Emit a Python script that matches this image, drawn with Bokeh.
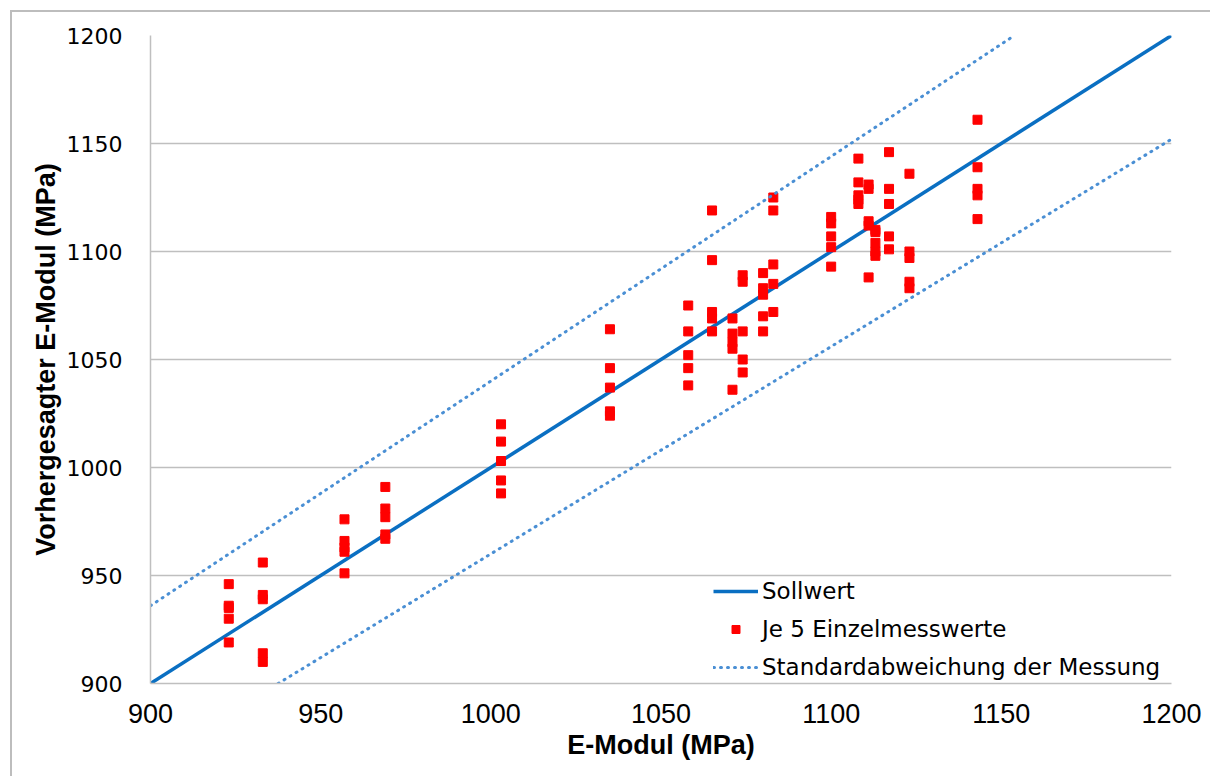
from bokeh.plotting import figure
from bokeh.models import Range1d, FixedTicker, Legend, LegendItem
from bokeh.embed import file_html
from bokeh.resources import INLINE

# ---- data ----
soll_x = [900, 1200]
soll_y = [900, 1200]
std_upper_x = [900, 1153.85]
std_upper_y = [936, 1200]
std_lower_x = [937.5, 1200]
std_lower_y = [900, 1152]

meas_x = ([923] * 5 + [933] * 5 + [957] * 5 + [969] * 5 + [1003] * 5 + [1035] * 5
          + [1058] * 5 + [1065] * 5 + [1071] * 5 + [1074] * 5 + [1080] * 5 + [1083] * 5
          + [1100] * 5 + [1108] * 5 + [1111] * 5 + [1113] * 5 + [1117] * 5 + [1123] * 5
          + [1143] * 5)
meas_y = [946, 936, 935, 930, 919,
          956, 941, 939, 914, 910,
          976, 966, 963, 961, 951,
          991, 981, 977, 969, 967,
          1020, 1012, 1003, 994, 988,
          1064, 1046, 1037, 1026, 1024,
          1075, 1063, 1052, 1046, 1038,
          1119, 1096, 1072, 1069, 1063,
          1069, 1062, 1058, 1055, 1036,
          1089, 1086, 1063, 1050, 1044,
          1090, 1083, 1080, 1070, 1063,
          1125, 1119, 1094, 1085, 1072,
          1116, 1113, 1107, 1102, 1093,
          1143, 1132, 1126, 1124, 1122,
          1131, 1129, 1114, 1112, 1088,
          1110, 1109, 1104, 1100, 1098,
          1146, 1129, 1122, 1107, 1101,
          1136, 1100, 1097, 1086, 1083,
          1161, 1139, 1129, 1126, 1115]

x_ticks = [900, 950, 1000, 1050, 1100, 1150, 1200]
y_ticks = [900, 950, 1000, 1050, 1100, 1150, 1200]

W, H = 1200, 766
p = figure(width=W, height=H, output_backend="svg", toolbar_location=None,
           x_range=Range1d(900, 1200), y_range=Range1d(900, 1200),
           min_border_left=138, min_border_right=41, min_border_top=23, min_border_bottom=95)
p.styles = {"border-left": "2px solid #bdbdbd", "border-top": "2px solid #bdbdbd",
            "margin-left": "10px", "margin-top": "10px"}
p.outline_line_color = None
p.background_fill_color = "white"
p.border_fill_color = "white"

p.xgrid.visible = False
p.ygrid.grid_line_color = "#bfbfbf"
p.ygrid.grid_line_width = 1.5
p.yaxis.ticker = FixedTicker(ticks=y_ticks)
p.xaxis.ticker = FixedTicker(ticks=x_ticks)

for ax in (p.xaxis[0], p.yaxis[0]):
    ax.axis_line_color = "#bfbfbf"
    ax.axis_line_width = 1.5
    ax.major_tick_line_color = None
    ax.minor_tick_line_color = None
    ax.major_label_text_color = "black"
    ax.axis_label_text_color = "black"
    ax.axis_label_text_font_style = "bold"

p.yaxis.major_label_text_font = "DejaVu Sans"
p.yaxis.major_label_text_font_size = "22px"
p.yaxis.major_label_standoff = 22
p.xaxis.major_label_text_font = "Liberation Sans"
p.xaxis.major_label_text_font_size = "27px"
p.xaxis.major_label_standoff = 14

p.xaxis.axis_label = "E-Modul (MPa)"
p.yaxis.axis_label = "Vorhergesagter E-Modul (MPa)"
p.xaxis.axis_label_text_font = "Liberation Sans"
p.yaxis.axis_label_text_font = "Liberation Sans"
p.xaxis.axis_label_text_font_size = "27px"
p.yaxis.axis_label_text_font_size = "27px"
p.xaxis.axis_label_standoff = 4
p.yaxis.axis_label_standoff = 3

r_soll = p.line(soll_x, soll_y, line_color="#0a6fc2", line_width=3.5)
r_pts = p.scatter(meas_x, meas_y, marker="square", size=9, fill_color="#ff0000",
                  line_color="#ff0000")
r_up = p.line(std_upper_x, std_upper_y, line_color="#4a8fd4", line_width=3,
              line_dash="1 6", line_cap="round")
r_lo = p.line(std_lower_x, std_lower_y, line_color="#4a8fd4", line_width=3,
              line_dash="1 6", line_cap="round")

legend = Legend(items=[
    LegendItem(label="Sollwert", renderers=[r_soll]),
    LegendItem(label="Je 5 Einzelmesswerte", renderers=[r_pts]),
    LegendItem(label="Standardabweichung der Messung", renderers=[r_up]),
], location=(563, -3))
legend.background_fill_alpha = 0
legend.border_line_color = None
legend.padding = 0
legend.margin = 0
legend.spacing = 0
legend.glyph_width = 45
legend.glyph_height = 20
legend.label_height = 38
legend.label_standoff = 4
legend.label_text_font = "DejaVu Sans"
legend.label_text_font_size = "23px"
legend.label_text_color = "black"
p.add_layout(legend, "center")

open("out.html", "w").write(file_html(p, INLINE))
